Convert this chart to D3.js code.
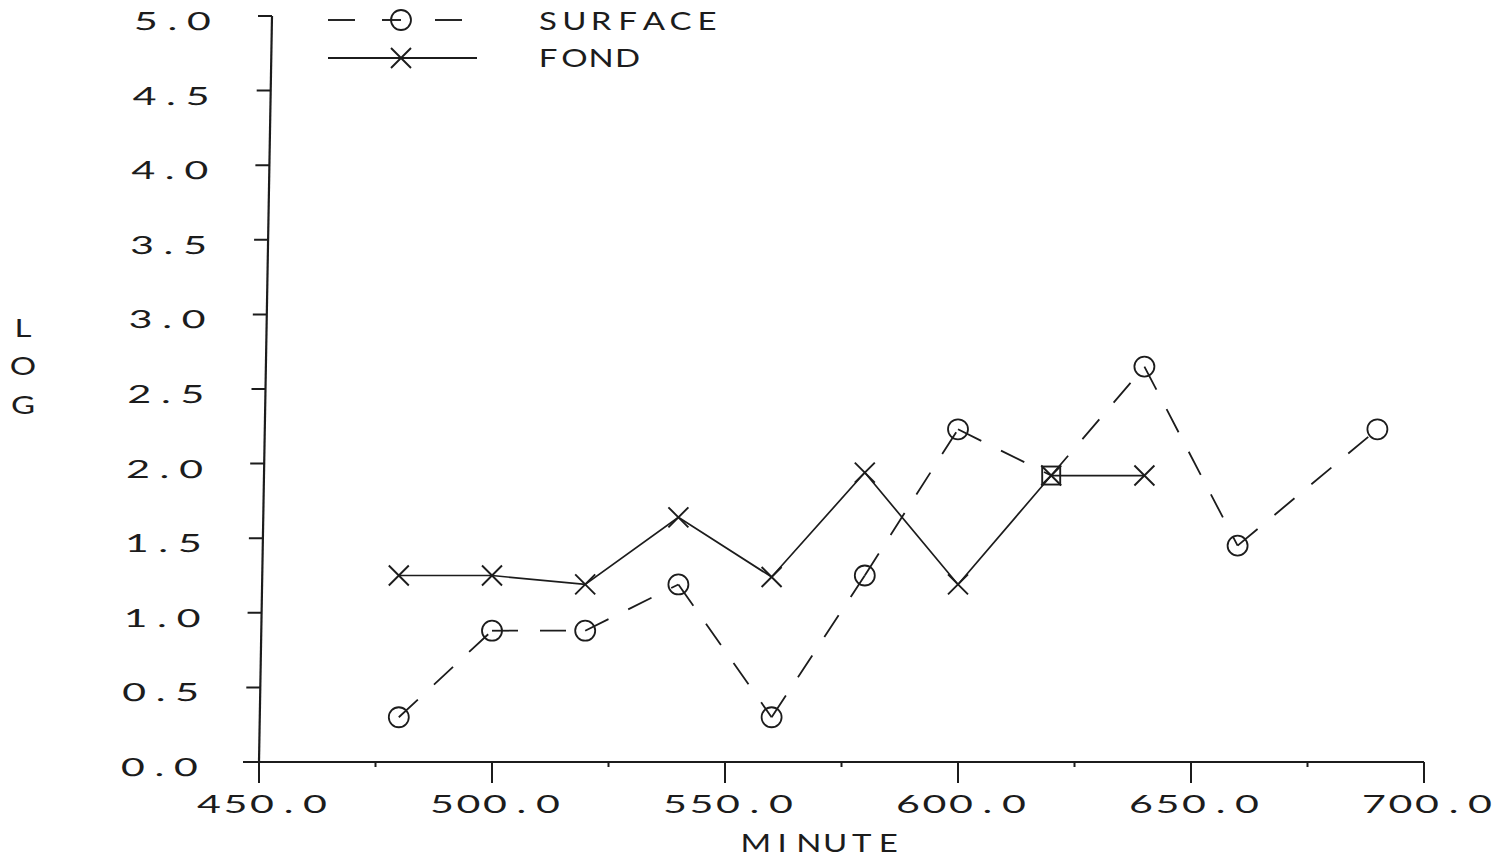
<!DOCTYPE html>
<html>
<head>
<meta charset="utf-8">
<script src="https://cdn.jsdelivr.net/npm/d3@7/dist/d3.min.js"></script>
<style>
  html, body { margin: 0; padding: 0; background: #fff; }
  svg { display: block; }
  text { font-family: "Lato", "DejaVu Sans", sans-serif; font-weight: 400; fill: #1c1c1c; }
</style>
</head>
<body>
<svg id="chart" width="1511" height="860"></svg>
<script>
// Sampling times (minutes) and log counts
const surfaceMinutes = [480, 500, 520, 540, 560, 580, 600, 620, 640, 660, 690];
const surfaceValues  = [0.30, 0.88, 0.88, 1.19, 0.30, 1.25, 2.23, 1.92, 2.65, 1.45, 2.23];
const fondMinutes    = [480, 500, 520, 540, 560, 580, 600, 620, 640];
const fondValues     = [1.25, 1.25, 1.19, 1.64, 1.24, 1.94, 1.19, 1.92, 1.92];

const xMajorTicks = [450, 500, 550, 600, 650, 700];
const xMinorTicks = [475, 525, 575, 625, 675];
const yTicks = [0, 0.5, 1, 1.5, 2, 2.5, 3, 3.5, 4, 4.5, 5];
const seriesNames = ["SURFACE", "FOND"];
const xTitle = "MINUTE";
const yTitle = ["L", "O", "G"];

const ink = "#1c1c1c";
const svg = d3.select("#chart");

const x = d3.scaleLinear().domain([450, 700]).range([259, 1424]);
const y = d3.scaleLinear().domain([0, 5]).range([762, 16]);
const fmt = d3.format(".1f");

// Plotter-style lettering: fixed character cells, wide glyphs.
const CELL = 26.5;        // character pitch
const WIDEN_DIGITS = 1.65; // horizontal stretch for numerals
const WIDEN_LETTERS = 1.32; // horizontal stretch for capitals
const FS = 25;            // font size
function plotText(g, str, px, baseline, anchor, widen) {
  const chars = Array.from(str);
  const n = chars.length;
  let first;
  if (anchor === "start") first = px;
  else if (anchor === "end") first = px - (n - 1) * CELL;
  else first = px - (n - 1) * CELL / 2;
  const xs = chars.map((c, i) => ((first + i * CELL) / widen).toFixed(2));
  return g.append("text")
    .attr("transform", `scale(${widen},1)`)
    .attr("x", xs.join(" "))
    .attr("y", baseline)
    .attr("text-anchor", "middle")
    .attr("font-size", FS)
    .text(str);
}

// ---- X axis ----
const gx = svg.append("g");
gx.append("line")
  .attr("x1", 243).attr("x2", x(700))
  .attr("y1", y(0)).attr("y2", y(0))
  .attr("stroke", ink).attr("stroke-width", 2.2);
gx.selectAll("line.major").data(xMajorTicks).join("line")
  .attr("class", "major")
  .attr("x1", d => x(d)).attr("x2", d => x(d))
  .attr("y1", y(0)).attr("y2", y(0) + 21)
  .attr("stroke", ink).attr("stroke-width", 2);
gx.selectAll("line.minor").data(xMinorTicks).join("line")
  .attr("class", "minor")
  .attr("x1", d => x(d)).attr("x2", d => x(d))
  .attr("y1", y(0)).attr("y2", y(0) + 5)
  .attr("stroke", ink).attr("stroke-width", 2);
xMajorTicks.forEach(d => plotText(gx, fmt(d), x(d) + 3, 813, "middle", WIDEN_DIGITS));
plotText(svg, xTitle, 822, 852, "middle", WIDEN_LETTERS);

// ---- Y axis (the plotted sheet leans slightly) ----
const lean = -Math.atan(13 / 746) * 180 / Math.PI;
const gy = svg.append("g")
  .attr("transform", `translate(${x(450)},${y(0)}) skewX(${lean})`);
const yRel = d3.scaleLinear().domain([0, 5]).range([0, y(5) - y(0)]);
gy.append("line")
  .attr("x1", 0).attr("x2", 0)
  .attr("y1", yRel(5)).attr("y2", 0)
  .attr("stroke", ink).attr("stroke-width", 2.2);
gy.selectAll("line.tick").data(yTicks).join("line")
  .attr("class", "tick")
  .attr("x1", -14).attr("x2", 0)
  .attr("y1", d => yRel(d)).attr("y2", d => yRel(d))
  .attr("stroke", ink).attr("stroke-width", 2);
yTicks.forEach(d => plotText(gy, fmt(d), -73, yRel(d) + 14, "end", WIDEN_DIGITS));

yTitle.forEach((d, i) => plotText(svg, d, 23, 337 + i * 38.5, "middle", WIDEN_LETTERS));

// ---- Series ----
const fondPts = fondMinutes.map((m, i) => [m, fondValues[i]]);
const surfPts = surfaceMinutes.map((m, i) => [m, surfaceValues[i]]);

// FOND: solid line with X markers
svg.append("path")
  .attr("d", d3.line().x(d => x(d[0])).y(d => y(d[1]))(fondPts))
  .attr("fill", "none").attr("stroke", ink).attr("stroke-width", 1.7);

function drawCross(g, cx, cy, r) {
  g.append("path")
    .attr("d", `M${cx - r},${cy - r}L${cx + r},${cy + r}M${cx - r},${cy + r}L${cx + r},${cy - r}`)
    .attr("stroke", ink).attr("stroke-width", 1.9).attr("fill", "none");
}
const gf = svg.append("g");
fondPts.forEach(p => drawCross(gf, x(p[0]), y(p[1]), 10));

// SURFACE: dashed segments, each starting with a dash at the point
const gs = svg.append("g");
for (let i = 0; i < surfPts.length - 1; i++) {
  const a = surfPts[i], b = surfPts[i + 1];
  gs.append("line")
    .attr("x1", x(a[0])).attr("y1", y(a[1]))
    .attr("x2", x(b[0])).attr("y2", y(b[1]))
    .attr("stroke", ink).attr("stroke-width", 1.8)
    .attr("stroke-dasharray", "26,22");
}

function drawCircleMark(g, cx, cy) {
  g.append("circle").attr("cx", cx).attr("cy", cy).attr("r", 10)
    .attr("fill", "none").attr("stroke", ink).attr("stroke-width", 1.8);
}
function drawBoxMark(g, cx, cy) {
  g.append("rect").attr("x", cx - 9).attr("y", cy - 9).attr("width", 18).attr("height", 18)
    .attr("fill", "none").attr("stroke", ink).attr("stroke-width", 1.9);
}
surfPts.forEach(p => {
  const shared = fondPts.some(f => f[0] === p[0] && f[1] === p[1]);
  if (shared) drawBoxMark(gs, x(p[0]), y(p[1]));
  else drawCircleMark(gs, x(p[0]), y(p[1]));
});

// ---- Legend ----
const gl = svg.append("g");
[[328, 355], [382, 401], [435, 462]].forEach(s => {
  gl.append("line").attr("x1", s[0]).attr("x2", s[1]).attr("y1", 20).attr("y2", 20)
    .attr("stroke", ink).attr("stroke-width", 1.9);
});
drawCircleMark(gl, 401, 20);
gl.append("line").attr("x1", 328).attr("x2", 477).attr("y1", 58).attr("y2", 58)
  .attr("stroke", ink).attr("stroke-width", 1.9);
drawCross(gl, 401, 58, 10);
seriesNames.forEach((d, i) => plotText(gl, d, 548, 30 + i * 37, "start", WIDEN_LETTERS));
</script>
</body>
</html>
